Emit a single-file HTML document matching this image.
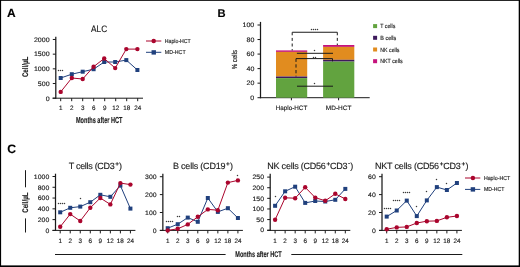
<!DOCTYPE html>
<html><head><meta charset="utf-8"><style>
html,body{margin:0;padding:0;background:#fff;width:520px;height:267px;overflow:hidden}
svg{display:block;will-change:transform}
text{font-family:"Liberation Sans", sans-serif;stroke:#1a1a1a;stroke-width:0.14;text-rendering:geometricPrecision}
</style></head><body>
<svg width="520" height="267" viewBox="0 0 520 267">
<rect width="520" height="267" fill="#fff"/>
<text x="7.0" y="17.4" font-size="12.0" text-anchor="start" font-weight="bold" fill="#000" stroke="#000" stroke-width="0.75">A</text>
<text x="99.1" y="31.6" font-size="9.3" text-anchor="middle" font-weight="normal" fill="#1a1a1a" textLength="16.1" lengthAdjust="spacingAndGlyphs" stroke-width="0.15">ALC</text>
<line x1="55.8" y1="36.7" x2="55.8" y2="98.8" stroke="#1a1a1a" stroke-width="1.25" />
<line x1="52.8" y1="98.2" x2="55.8" y2="98.2" stroke="#1a1a1a" stroke-width="1" />
<text x="49.599999999999994" y="100.504" font-size="6.4" text-anchor="end" font-weight="normal" fill="#1a1a1a" textLength="3.92" lengthAdjust="spacingAndGlyphs" >0</text>
<line x1="52.8" y1="83.52000000000001" x2="55.8" y2="83.52000000000001" stroke="#1a1a1a" stroke-width="1" />
<text x="49.599999999999994" y="85.82400000000001" font-size="6.4" text-anchor="end" font-weight="normal" fill="#1a1a1a" textLength="11.75" lengthAdjust="spacingAndGlyphs" >500</text>
<line x1="52.8" y1="68.84" x2="55.8" y2="68.84" stroke="#1a1a1a" stroke-width="1" />
<text x="49.599999999999994" y="71.144" font-size="6.4" text-anchor="end" font-weight="normal" fill="#1a1a1a" textLength="15.66" lengthAdjust="spacingAndGlyphs" >1000</text>
<line x1="52.8" y1="54.160000000000004" x2="55.8" y2="54.160000000000004" stroke="#1a1a1a" stroke-width="1" />
<text x="49.599999999999994" y="56.464000000000006" font-size="6.4" text-anchor="end" font-weight="normal" fill="#1a1a1a" textLength="15.66" lengthAdjust="spacingAndGlyphs" >1500</text>
<line x1="52.8" y1="39.480000000000004" x2="55.8" y2="39.480000000000004" stroke="#1a1a1a" stroke-width="1" />
<text x="49.599999999999994" y="41.784000000000006" font-size="6.4" text-anchor="end" font-weight="normal" fill="#1a1a1a" textLength="15.66" lengthAdjust="spacingAndGlyphs" >2000</text>
<line x1="52.5" y1="98.2" x2="143" y2="98.2" stroke="#1a1a1a" stroke-width="1" />
<line x1="60.7" y1="98.2" x2="60.7" y2="101.2" stroke="#1a1a1a" stroke-width="1" />
<text x="60.7" y="110.3" font-size="6.3" text-anchor="middle" font-weight="normal" fill="#1a1a1a" >1</text>
<line x1="71.7" y1="98.2" x2="71.7" y2="101.2" stroke="#1a1a1a" stroke-width="1" />
<text x="71.7" y="110.3" font-size="6.3" text-anchor="middle" font-weight="normal" fill="#1a1a1a" >2</text>
<line x1="82.7" y1="98.2" x2="82.7" y2="101.2" stroke="#1a1a1a" stroke-width="1" />
<text x="82.7" y="110.3" font-size="6.3" text-anchor="middle" font-weight="normal" fill="#1a1a1a" >3</text>
<line x1="93.7" y1="98.2" x2="93.7" y2="101.2" stroke="#1a1a1a" stroke-width="1" />
<text x="93.7" y="110.3" font-size="6.3" text-anchor="middle" font-weight="normal" fill="#1a1a1a" >6</text>
<line x1="104.7" y1="98.2" x2="104.7" y2="101.2" stroke="#1a1a1a" stroke-width="1" />
<text x="104.7" y="110.3" font-size="6.3" text-anchor="middle" font-weight="normal" fill="#1a1a1a" >9</text>
<line x1="115.7" y1="98.2" x2="115.7" y2="101.2" stroke="#1a1a1a" stroke-width="1" />
<text x="115.7" y="110.3" font-size="6.3" text-anchor="middle" font-weight="normal" fill="#1a1a1a" >12</text>
<line x1="126.7" y1="98.2" x2="126.7" y2="101.2" stroke="#1a1a1a" stroke-width="1" />
<text x="126.7" y="110.3" font-size="6.3" text-anchor="middle" font-weight="normal" fill="#1a1a1a" >18</text>
<line x1="137.7" y1="98.2" x2="137.7" y2="101.2" stroke="#1a1a1a" stroke-width="1" />
<text x="137.7" y="110.3" font-size="6.3" text-anchor="middle" font-weight="normal" fill="#1a1a1a" >24</text>
<text x="0" y="0" font-size="8.2" text-anchor="middle" font-weight="bold" fill="#1a1a1a" textLength="20.4" lengthAdjust="spacingAndGlyphs" stroke-width="0.02" transform="translate(28.3,66.9) rotate(-90)">Cell/µL</text>
<text x="99.2" y="122.6" font-size="8.7" text-anchor="middle" font-weight="bold" fill="#1a1a1a" textLength="46.5" lengthAdjust="spacingAndGlyphs" >Months after HCT</text>
<circle cx="58.50" cy="70.5" r="0.72" fill="#3a3a3a"/>
<circle cx="60.50" cy="70.5" r="0.72" fill="#3a3a3a"/>
<circle cx="62.50" cy="70.5" r="0.72" fill="#3a3a3a"/>
<polyline points="60.7,78 71.8,74.2 82.7,71.7 93.6,69.2 104.2,62 115.2,62 126.3,60.1 137.4,70" fill="none" stroke="#20407d" stroke-width="1"/>
<rect x="58.7" y="76" width="4" height="4" fill="#20407d"/>
<rect x="69.8" y="72.2" width="4" height="4" fill="#20407d"/>
<rect x="80.7" y="69.7" width="4" height="4" fill="#20407d"/>
<rect x="91.6" y="67.2" width="4" height="4" fill="#20407d"/>
<rect x="102.2" y="60" width="4" height="4" fill="#20407d"/>
<rect x="113.2" y="60" width="4" height="4" fill="#20407d"/>
<rect x="124.3" y="58.1" width="4" height="4" fill="#20407d"/>
<rect x="135.4" y="68" width="4" height="4" fill="#20407d"/>
<polyline points="60.7,91.9 71.8,78 82.7,79 93.6,66.7 104.2,58.5 115.2,68.1 126.3,49.1 137.4,49.1" fill="none" stroke="#aa052d" stroke-width="1"/>
<circle cx="60.7" cy="91.9" r="2.2" fill="#aa052d"/>
<circle cx="71.8" cy="78" r="2.2" fill="#aa052d"/>
<circle cx="82.7" cy="79" r="2.2" fill="#aa052d"/>
<circle cx="93.6" cy="66.7" r="2.2" fill="#aa052d"/>
<circle cx="104.2" cy="58.5" r="2.2" fill="#aa052d"/>
<circle cx="115.2" cy="68.1" r="2.2" fill="#aa052d"/>
<circle cx="126.3" cy="49.1" r="2.2" fill="#aa052d"/>
<circle cx="137.4" cy="49.1" r="2.2" fill="#aa052d"/>
<line x1="146" y1="41.0" x2="161.3" y2="41.0" stroke="#aa052d" stroke-width="1" />
<circle cx="153.7" cy="40.9" r="2.25" fill="#aa052d"/>
<text x="164.8" y="42.6" font-size="5.8" text-anchor="start" font-weight="normal" fill="#1a1a1a" textLength="26" lengthAdjust="spacingAndGlyphs" stroke-width="0.06">Haplo-HCT</text>
<line x1="146" y1="52.3" x2="161.3" y2="52.3" stroke="#20407d" stroke-width="1" />
<rect x="151.55" y="50.2" width="4.4" height="4.4" fill="#20407d"/>
<text x="164.8" y="54.2" font-size="5.8" text-anchor="start" font-weight="normal" fill="#1a1a1a" textLength="20.8" lengthAdjust="spacingAndGlyphs" stroke-width="0.06">MD-HCT</text>
<text x="217.6" y="16.6" font-size="11.2" text-anchor="start" font-weight="bold" fill="#000" stroke="#000" stroke-width="0.9">B</text>
<line x1="260.5" y1="21.9" x2="260.5" y2="98.3" stroke="#1a1a1a" stroke-width="1.25" />
<line x1="257.5" y1="97.7" x2="260.5" y2="97.7" stroke="#1a1a1a" stroke-width="1" />
<text x="254.3" y="100.004" font-size="6.4" text-anchor="end" font-weight="normal" fill="#1a1a1a" textLength="3.92" lengthAdjust="spacingAndGlyphs" >0</text>
<line x1="257.5" y1="83.16" x2="260.5" y2="83.16" stroke="#1a1a1a" stroke-width="1" />
<text x="254.3" y="85.464" font-size="6.4" text-anchor="end" font-weight="normal" fill="#1a1a1a" textLength="7.83" lengthAdjust="spacingAndGlyphs" >20</text>
<line x1="257.5" y1="68.62" x2="260.5" y2="68.62" stroke="#1a1a1a" stroke-width="1" />
<text x="254.3" y="70.924" font-size="6.4" text-anchor="end" font-weight="normal" fill="#1a1a1a" textLength="7.83" lengthAdjust="spacingAndGlyphs" >40</text>
<line x1="257.5" y1="54.080000000000005" x2="260.5" y2="54.080000000000005" stroke="#1a1a1a" stroke-width="1" />
<text x="254.3" y="56.38400000000001" font-size="6.4" text-anchor="end" font-weight="normal" fill="#1a1a1a" textLength="7.83" lengthAdjust="spacingAndGlyphs" >60</text>
<line x1="257.5" y1="39.540000000000006" x2="260.5" y2="39.540000000000006" stroke="#1a1a1a" stroke-width="1" />
<text x="254.3" y="41.84400000000001" font-size="6.4" text-anchor="end" font-weight="normal" fill="#1a1a1a" textLength="7.83" lengthAdjust="spacingAndGlyphs" >80</text>
<line x1="257.5" y1="25.0" x2="260.5" y2="25.0" stroke="#1a1a1a" stroke-width="1" />
<text x="254.3" y="27.304" font-size="6.4" text-anchor="end" font-weight="normal" fill="#1a1a1a" textLength="11.75" lengthAdjust="spacingAndGlyphs" >100</text>
<line x1="260.5" y1="97.7" x2="369.7" y2="97.7" stroke="#1a1a1a" stroke-width="1" />
<line x1="291.4" y1="97.7" x2="291.4" y2="100.3" stroke="#1a1a1a" stroke-width="1" />
<line x1="338.6" y1="97.7" x2="338.6" y2="100.3" stroke="#1a1a1a" stroke-width="1" />
<text x="291.5" y="110" font-size="6.3" text-anchor="middle" font-weight="normal" fill="#1a1a1a" textLength="31.5" lengthAdjust="spacingAndGlyphs" >Haplo-HCT</text>
<text x="338.6" y="110" font-size="6.3" text-anchor="middle" font-weight="normal" fill="#1a1a1a" textLength="25.5" lengthAdjust="spacingAndGlyphs" >MD-HCT</text>
<text x="0" y="0" font-size="7.3" text-anchor="middle" font-weight="normal" fill="#1a1a1a" textLength="19.4" lengthAdjust="spacingAndGlyphs" stroke-width="0.2" transform="translate(236.6,59.6) rotate(-90)">% cells</text>
<rect x="276" y="50.4" width="31.19999999999999" height="1.5" fill="#c5127c"/>
<rect x="276" y="51.9" width="31.19999999999999" height="24.6" fill="#e18c1f"/>
<rect x="276" y="76.5" width="31.19999999999999" height="1.5999999999999943" fill="#3e1a5c"/>
<rect x="276" y="78.1" width="31.19999999999999" height="19.60000000000001" fill="#62a33f"/>
<rect x="323.1" y="45.0" width="31.19999999999999" height="1.8999999999999986" fill="#c5127c"/>
<rect x="323.1" y="46.9" width="31.19999999999999" height="12.899999999999999" fill="#e18c1f"/>
<rect x="323.1" y="59.8" width="31.19999999999999" height="1.8000000000000043" fill="#3e1a5c"/>
<rect x="323.1" y="61.6" width="31.19999999999999" height="36.1" fill="#62a33f"/>
<line x1="292.2" y1="32.3" x2="337.3" y2="32.3" stroke="#1a1a1a" stroke-width="1.1" />
<line x1="292.2" y1="32.3" x2="292.2" y2="50.4" stroke="#1a1a1a" stroke-width="1" stroke-dasharray="3.0,2.6"/>
<line x1="337.3" y1="32.3" x2="337.3" y2="45" stroke="#1a1a1a" stroke-width="1" stroke-dasharray="3.0,2.6"/>
<circle cx="311.50" cy="29.5" r="0.72" fill="#3a3a3a"/>
<circle cx="313.50" cy="29.5" r="0.72" fill="#3a3a3a"/>
<circle cx="315.50" cy="29.5" r="0.72" fill="#3a3a3a"/>
<circle cx="317.50" cy="29.5" r="0.72" fill="#3a3a3a"/>
<line x1="296.9" y1="53.3" x2="333" y2="53.3" stroke="#1a1a1a" stroke-width="1" />
<circle cx="314.50" cy="50.5" r="0.72" fill="#3a3a3a"/>
<line x1="296" y1="58.6" x2="332.5" y2="58.6" stroke="#1a1a1a" stroke-width="1" />
<line x1="332.5" y1="58.6" x2="332.5" y2="61.4" stroke="#1a1a1a" stroke-width="1" />
<line x1="296" y1="58.6" x2="296" y2="76.5" stroke="#1a1a1a" stroke-width="1" stroke-dasharray="3.3,2.4"/>
<circle cx="313.50" cy="57.5" r="0.72" fill="#3a3a3a"/>
<circle cx="315.50" cy="57.5" r="0.72" fill="#3a3a3a"/>
<line x1="297" y1="86.2" x2="333" y2="86.2" stroke="#1a1a1a" stroke-width="1" />
<circle cx="314.50" cy="83.5" r="0.72" fill="#3a3a3a"/>
<rect x="373.1" y="24.1" width="4" height="4" fill="#62a33f"/>
<text x="380.3" y="28.200000000000003" font-size="6.0" text-anchor="start" font-weight="normal" fill="#1a1a1a" textLength="15" lengthAdjust="spacingAndGlyphs" >T cells</text>
<rect x="373.1" y="35.8" width="4" height="4" fill="#3e1a5c"/>
<text x="380.3" y="39.9" font-size="6.0" text-anchor="start" font-weight="normal" fill="#1a1a1a" textLength="16" lengthAdjust="spacingAndGlyphs" >B cells</text>
<rect x="373.1" y="47.5" width="4" height="4" fill="#e18c1f"/>
<text x="380.3" y="51.6" font-size="6.0" text-anchor="start" font-weight="normal" fill="#1a1a1a" textLength="19.2" lengthAdjust="spacingAndGlyphs" >NK cells</text>
<rect x="373.1" y="59.199999999999996" width="4" height="4" fill="#c5127c"/>
<text x="380.3" y="63.3" font-size="6.0" text-anchor="start" font-weight="normal" fill="#1a1a1a" textLength="22.3" lengthAdjust="spacingAndGlyphs" >NKT cells</text>
<text x="7.2" y="153.4" font-size="12.2" text-anchor="start" font-weight="bold" fill="#000" stroke="#000" stroke-width="0.9">C</text>
<line x1="25.5" y1="170.2" x2="25.5" y2="187.3" stroke="#1a1a1a" stroke-width="1" />
<line x1="25.5" y1="218.4" x2="25.5" y2="232.5" stroke="#1a1a1a" stroke-width="1" />
<text x="0" y="0" font-size="8.2" text-anchor="middle" font-weight="bold" fill="#1a1a1a" textLength="20.4" lengthAdjust="spacingAndGlyphs" stroke-width="0.02" transform="translate(28.3,202.6) rotate(-90)">Cell/µL</text>
<line x1="55" y1="254.5" x2="225.6" y2="254.5" stroke="#1a1a1a" stroke-width="1.1" />
<line x1="291.3" y1="254.5" x2="462.3" y2="254.5" stroke="#1a1a1a" stroke-width="1.1" />
<text x="258.5" y="257.2" font-size="8.2" text-anchor="middle" font-weight="bold" fill="#1a1a1a" textLength="46.5" lengthAdjust="spacingAndGlyphs" >Months after HCT</text>
<line x1="55.5" y1="173.7" x2="55.5" y2="231.0" stroke="#1a1a1a" stroke-width="1.25" />
<line x1="52.5" y1="230.4" x2="55.5" y2="230.4" stroke="#1a1a1a" stroke-width="1" />
<text x="49.3" y="232.668" font-size="6.3" text-anchor="end" font-weight="normal" fill="#1a1a1a" textLength="3.85" lengthAdjust="spacingAndGlyphs" >0</text>
<line x1="52.5" y1="219.62" x2="55.5" y2="219.62" stroke="#1a1a1a" stroke-width="1" />
<text x="49.3" y="221.888" font-size="6.3" text-anchor="end" font-weight="normal" fill="#1a1a1a" textLength="11.56" lengthAdjust="spacingAndGlyphs" >200</text>
<line x1="52.5" y1="208.84" x2="55.5" y2="208.84" stroke="#1a1a1a" stroke-width="1" />
<text x="49.3" y="211.108" font-size="6.3" text-anchor="end" font-weight="normal" fill="#1a1a1a" textLength="11.56" lengthAdjust="spacingAndGlyphs" >400</text>
<line x1="52.5" y1="198.06" x2="55.5" y2="198.06" stroke="#1a1a1a" stroke-width="1" />
<text x="49.3" y="200.328" font-size="6.3" text-anchor="end" font-weight="normal" fill="#1a1a1a" textLength="11.56" lengthAdjust="spacingAndGlyphs" >600</text>
<line x1="52.5" y1="187.28" x2="55.5" y2="187.28" stroke="#1a1a1a" stroke-width="1" />
<text x="49.3" y="189.548" font-size="6.3" text-anchor="end" font-weight="normal" fill="#1a1a1a" textLength="11.56" lengthAdjust="spacingAndGlyphs" >800</text>
<line x1="52.5" y1="176.5" x2="55.5" y2="176.5" stroke="#1a1a1a" stroke-width="1" />
<text x="49.3" y="178.768" font-size="6.3" text-anchor="end" font-weight="normal" fill="#1a1a1a" textLength="15.42" lengthAdjust="spacingAndGlyphs" >1000</text>
<line x1="52.5" y1="230.4" x2="135.41" y2="230.4" stroke="#1a1a1a" stroke-width="1" />
<line x1="60.2" y1="230.4" x2="60.2" y2="233.4" stroke="#1a1a1a" stroke-width="1" />
<text x="60.2" y="242.5" font-size="6.3" text-anchor="middle" font-weight="normal" fill="#1a1a1a" >1</text>
<line x1="70.23" y1="230.4" x2="70.23" y2="233.4" stroke="#1a1a1a" stroke-width="1" />
<text x="70.23" y="242.5" font-size="6.3" text-anchor="middle" font-weight="normal" fill="#1a1a1a" >2</text>
<line x1="80.26" y1="230.4" x2="80.26" y2="233.4" stroke="#1a1a1a" stroke-width="1" />
<text x="80.26" y="242.5" font-size="6.3" text-anchor="middle" font-weight="normal" fill="#1a1a1a" >3</text>
<line x1="90.28999999999999" y1="230.4" x2="90.28999999999999" y2="233.4" stroke="#1a1a1a" stroke-width="1" />
<text x="90.28999999999999" y="242.5" font-size="6.3" text-anchor="middle" font-weight="normal" fill="#1a1a1a" >6</text>
<line x1="100.32" y1="230.4" x2="100.32" y2="233.4" stroke="#1a1a1a" stroke-width="1" />
<text x="100.32" y="242.5" font-size="6.3" text-anchor="middle" font-weight="normal" fill="#1a1a1a" >9</text>
<line x1="110.35" y1="230.4" x2="110.35" y2="233.4" stroke="#1a1a1a" stroke-width="1" />
<text x="110.35" y="242.5" font-size="6.3" text-anchor="middle" font-weight="normal" fill="#1a1a1a" >12</text>
<line x1="120.38" y1="230.4" x2="120.38" y2="233.4" stroke="#1a1a1a" stroke-width="1" />
<text x="120.38" y="242.5" font-size="6.3" text-anchor="middle" font-weight="normal" fill="#1a1a1a" >18</text>
<line x1="130.41" y1="230.4" x2="130.41" y2="233.4" stroke="#1a1a1a" stroke-width="1" />
<text x="130.41" y="242.5" font-size="6.3" text-anchor="middle" font-weight="normal" fill="#1a1a1a" >24</text>
<text x="68.7" y="168.6" font-size="9.0" fill="#1a1a1a" stroke-width="0.18" letter-spacing="-0.298">T cells (CD3<tspan font-size="6.4" font-weight="bold" dx="0.8" dy="-2.9">+</tspan><tspan dx="0.4" dy="2.9">)</tspan></text>
<polyline points="60.2,212.3 70.23,207.8 80.26,206.6 90.28999999999999,202.2 100.32,194.8 110.35,196.8 120.38,185.6 130.41,208.6" fill="none" stroke="#20407d" stroke-width="1"/>
<rect x="58.2" y="210.3" width="4" height="4" fill="#20407d"/>
<rect x="68.23" y="205.8" width="4" height="4" fill="#20407d"/>
<rect x="78.26" y="204.6" width="4" height="4" fill="#20407d"/>
<rect x="88.28999999999999" y="200.2" width="4" height="4" fill="#20407d"/>
<rect x="98.32" y="192.8" width="4" height="4" fill="#20407d"/>
<rect x="108.35" y="194.8" width="4" height="4" fill="#20407d"/>
<rect x="118.38" y="183.6" width="4" height="4" fill="#20407d"/>
<rect x="128.41" y="206.6" width="4" height="4" fill="#20407d"/>
<polyline points="60.2,226.8 70.23,214.1 80.26,221.0 90.28999999999999,207.8 100.32,198.0 110.35,204.4 120.38,183.1 130.41,184.6" fill="none" stroke="#aa052d" stroke-width="1"/>
<circle cx="60.2" cy="226.8" r="2.2" fill="#aa052d"/>
<circle cx="70.23" cy="214.1" r="2.2" fill="#aa052d"/>
<circle cx="80.26" cy="221.0" r="2.2" fill="#aa052d"/>
<circle cx="90.28999999999999" cy="207.8" r="2.2" fill="#aa052d"/>
<circle cx="100.32" cy="198.0" r="2.2" fill="#aa052d"/>
<circle cx="110.35" cy="204.4" r="2.2" fill="#aa052d"/>
<circle cx="120.38" cy="183.1" r="2.2" fill="#aa052d"/>
<circle cx="130.41" cy="184.6" r="2.2" fill="#aa052d"/>
<circle cx="58.50" cy="203.5" r="0.72" fill="#3a3a3a"/>
<circle cx="60.50" cy="203.5" r="0.72" fill="#3a3a3a"/>
<circle cx="62.50" cy="203.5" r="0.72" fill="#3a3a3a"/>
<circle cx="64.50" cy="203.5" r="0.72" fill="#3a3a3a"/>
<circle cx="80.50" cy="198.5" r="0.72" fill="#3a3a3a"/>
<line x1="162.85" y1="173.7" x2="162.85" y2="231.0" stroke="#1a1a1a" stroke-width="1.25" />
<line x1="159.85" y1="230.4" x2="162.85" y2="230.4" stroke="#1a1a1a" stroke-width="1" />
<text x="156.65" y="232.668" font-size="6.3" text-anchor="end" font-weight="normal" fill="#1a1a1a" textLength="3.85" lengthAdjust="spacingAndGlyphs" >0</text>
<line x1="159.85" y1="212.5" x2="162.85" y2="212.5" stroke="#1a1a1a" stroke-width="1" />
<text x="156.65" y="214.768" font-size="6.3" text-anchor="end" font-weight="normal" fill="#1a1a1a" textLength="11.56" lengthAdjust="spacingAndGlyphs" >100</text>
<line x1="159.85" y1="194.60000000000002" x2="162.85" y2="194.60000000000002" stroke="#1a1a1a" stroke-width="1" />
<text x="156.65" y="196.86800000000002" font-size="6.3" text-anchor="end" font-weight="normal" fill="#1a1a1a" textLength="11.56" lengthAdjust="spacingAndGlyphs" >200</text>
<line x1="159.85" y1="176.70000000000002" x2="162.85" y2="176.70000000000002" stroke="#1a1a1a" stroke-width="1" />
<text x="156.65" y="178.96800000000002" font-size="6.3" text-anchor="end" font-weight="normal" fill="#1a1a1a" textLength="11.56" lengthAdjust="spacingAndGlyphs" >300</text>
<line x1="159.85" y1="230.4" x2="242.90999999999997" y2="230.4" stroke="#1a1a1a" stroke-width="1" />
<line x1="167.7" y1="230.4" x2="167.7" y2="233.4" stroke="#1a1a1a" stroke-width="1" />
<text x="167.7" y="242.5" font-size="6.3" text-anchor="middle" font-weight="normal" fill="#1a1a1a" >1</text>
<line x1="177.73" y1="230.4" x2="177.73" y2="233.4" stroke="#1a1a1a" stroke-width="1" />
<text x="177.73" y="242.5" font-size="6.3" text-anchor="middle" font-weight="normal" fill="#1a1a1a" >2</text>
<line x1="187.76" y1="230.4" x2="187.76" y2="233.4" stroke="#1a1a1a" stroke-width="1" />
<text x="187.76" y="242.5" font-size="6.3" text-anchor="middle" font-weight="normal" fill="#1a1a1a" >3</text>
<line x1="197.79" y1="230.4" x2="197.79" y2="233.4" stroke="#1a1a1a" stroke-width="1" />
<text x="197.79" y="242.5" font-size="6.3" text-anchor="middle" font-weight="normal" fill="#1a1a1a" >6</text>
<line x1="207.82" y1="230.4" x2="207.82" y2="233.4" stroke="#1a1a1a" stroke-width="1" />
<text x="207.82" y="242.5" font-size="6.3" text-anchor="middle" font-weight="normal" fill="#1a1a1a" >9</text>
<line x1="217.85" y1="230.4" x2="217.85" y2="233.4" stroke="#1a1a1a" stroke-width="1" />
<text x="217.85" y="242.5" font-size="6.3" text-anchor="middle" font-weight="normal" fill="#1a1a1a" >12</text>
<line x1="227.88" y1="230.4" x2="227.88" y2="233.4" stroke="#1a1a1a" stroke-width="1" />
<text x="227.88" y="242.5" font-size="6.3" text-anchor="middle" font-weight="normal" fill="#1a1a1a" >18</text>
<line x1="237.90999999999997" y1="230.4" x2="237.90999999999997" y2="233.4" stroke="#1a1a1a" stroke-width="1" />
<text x="237.90999999999997" y="242.5" font-size="6.3" text-anchor="middle" font-weight="normal" fill="#1a1a1a" >24</text>
<text x="173" y="168.6" font-size="9.0" fill="#1a1a1a" stroke-width="0.18" letter-spacing="-0.211">B cells (CD19<tspan font-size="6.4" font-weight="bold" dx="0.8" dy="-2.9">+</tspan><tspan dx="0.4" dy="2.9">)</tspan></text>
<polyline points="167.7,228.2 177.73,224.2 187.76,217.6 197.79,221.8 207.82,198.0 217.85,211.9 227.88,208.2 237.90999999999997,218.0" fill="none" stroke="#20407d" stroke-width="1"/>
<rect x="165.7" y="226.2" width="4" height="4" fill="#20407d"/>
<rect x="175.73" y="222.2" width="4" height="4" fill="#20407d"/>
<rect x="185.76" y="215.6" width="4" height="4" fill="#20407d"/>
<rect x="195.79" y="219.8" width="4" height="4" fill="#20407d"/>
<rect x="205.82" y="196.0" width="4" height="4" fill="#20407d"/>
<rect x="215.85" y="209.9" width="4" height="4" fill="#20407d"/>
<rect x="225.88" y="206.2" width="4" height="4" fill="#20407d"/>
<rect x="235.90999999999997" y="216.0" width="4" height="4" fill="#20407d"/>
<polyline points="167.7,230.4 177.73,228.8 187.76,224.4 197.79,216.8 207.82,209.4 217.85,210.2 227.88,182.6 237.90999999999997,180.4" fill="none" stroke="#aa052d" stroke-width="1"/>
<circle cx="167.7" cy="230.4" r="2.2" fill="#aa052d"/>
<circle cx="177.73" cy="228.8" r="2.2" fill="#aa052d"/>
<circle cx="187.76" cy="224.4" r="2.2" fill="#aa052d"/>
<circle cx="197.79" cy="216.8" r="2.2" fill="#aa052d"/>
<circle cx="207.82" cy="209.4" r="2.2" fill="#aa052d"/>
<circle cx="217.85" cy="210.2" r="2.2" fill="#aa052d"/>
<circle cx="227.88" cy="182.6" r="2.2" fill="#aa052d"/>
<circle cx="237.90999999999997" cy="180.4" r="2.2" fill="#aa052d"/>
<circle cx="166.50" cy="221.5" r="0.72" fill="#3a3a3a"/>
<circle cx="168.50" cy="221.5" r="0.72" fill="#3a3a3a"/>
<circle cx="170.50" cy="221.5" r="0.72" fill="#3a3a3a"/>
<circle cx="172.50" cy="221.5" r="0.72" fill="#3a3a3a"/>
<circle cx="177.50" cy="216.5" r="0.72" fill="#3a3a3a"/>
<circle cx="179.50" cy="216.5" r="0.72" fill="#3a3a3a"/>
<circle cx="237.50" cy="175.5" r="0.72" fill="#3a3a3a"/>
<line x1="270.2" y1="173.7" x2="270.2" y2="231.0" stroke="#1a1a1a" stroke-width="1.25" />
<line x1="267.2" y1="230.2" x2="270.2" y2="230.2" stroke="#1a1a1a" stroke-width="1" />
<text x="264.0" y="232.468" font-size="6.3" text-anchor="end" font-weight="normal" fill="#1a1a1a" textLength="3.85" lengthAdjust="spacingAndGlyphs" >0</text>
<line x1="267.2" y1="219.57999999999998" x2="270.2" y2="219.57999999999998" stroke="#1a1a1a" stroke-width="1" />
<text x="264.0" y="221.84799999999998" font-size="6.3" text-anchor="end" font-weight="normal" fill="#1a1a1a" textLength="7.71" lengthAdjust="spacingAndGlyphs" >50</text>
<line x1="267.2" y1="208.95999999999998" x2="270.2" y2="208.95999999999998" stroke="#1a1a1a" stroke-width="1" />
<text x="264.0" y="211.22799999999998" font-size="6.3" text-anchor="end" font-weight="normal" fill="#1a1a1a" textLength="11.56" lengthAdjust="spacingAndGlyphs" >100</text>
<line x1="267.2" y1="198.33999999999997" x2="270.2" y2="198.33999999999997" stroke="#1a1a1a" stroke-width="1" />
<text x="264.0" y="200.60799999999998" font-size="6.3" text-anchor="end" font-weight="normal" fill="#1a1a1a" textLength="11.56" lengthAdjust="spacingAndGlyphs" >150</text>
<line x1="267.2" y1="187.72" x2="270.2" y2="187.72" stroke="#1a1a1a" stroke-width="1" />
<text x="264.0" y="189.988" font-size="6.3" text-anchor="end" font-weight="normal" fill="#1a1a1a" textLength="11.56" lengthAdjust="spacingAndGlyphs" >200</text>
<line x1="267.2" y1="177.1" x2="270.2" y2="177.1" stroke="#1a1a1a" stroke-width="1" />
<text x="264.0" y="179.368" font-size="6.3" text-anchor="end" font-weight="normal" fill="#1a1a1a" textLength="11.56" lengthAdjust="spacingAndGlyphs" >250</text>
<line x1="267.2" y1="230.4" x2="350.31" y2="230.4" stroke="#1a1a1a" stroke-width="1" />
<line x1="275.1" y1="230.4" x2="275.1" y2="233.4" stroke="#1a1a1a" stroke-width="1" />
<text x="275.1" y="242.5" font-size="6.3" text-anchor="middle" font-weight="normal" fill="#1a1a1a" >1</text>
<line x1="285.13" y1="230.4" x2="285.13" y2="233.4" stroke="#1a1a1a" stroke-width="1" />
<text x="285.13" y="242.5" font-size="6.3" text-anchor="middle" font-weight="normal" fill="#1a1a1a" >2</text>
<line x1="295.16" y1="230.4" x2="295.16" y2="233.4" stroke="#1a1a1a" stroke-width="1" />
<text x="295.16" y="242.5" font-size="6.3" text-anchor="middle" font-weight="normal" fill="#1a1a1a" >3</text>
<line x1="305.19" y1="230.4" x2="305.19" y2="233.4" stroke="#1a1a1a" stroke-width="1" />
<text x="305.19" y="242.5" font-size="6.3" text-anchor="middle" font-weight="normal" fill="#1a1a1a" >6</text>
<line x1="315.22" y1="230.4" x2="315.22" y2="233.4" stroke="#1a1a1a" stroke-width="1" />
<text x="315.22" y="242.5" font-size="6.3" text-anchor="middle" font-weight="normal" fill="#1a1a1a" >9</text>
<line x1="325.25" y1="230.4" x2="325.25" y2="233.4" stroke="#1a1a1a" stroke-width="1" />
<text x="325.25" y="242.5" font-size="6.3" text-anchor="middle" font-weight="normal" fill="#1a1a1a" >12</text>
<line x1="335.28000000000003" y1="230.4" x2="335.28000000000003" y2="233.4" stroke="#1a1a1a" stroke-width="1" />
<text x="335.28000000000003" y="242.5" font-size="6.3" text-anchor="middle" font-weight="normal" fill="#1a1a1a" >18</text>
<line x1="345.31" y1="230.4" x2="345.31" y2="233.4" stroke="#1a1a1a" stroke-width="1" />
<text x="345.31" y="242.5" font-size="6.3" text-anchor="middle" font-weight="normal" fill="#1a1a1a" >24</text>
<text x="267.3" y="168.6" font-size="9.0" fill="#1a1a1a" stroke-width="0.18" letter-spacing="-0.231">NK cells (CD56<tspan font-size="6.4" font-weight="bold" dx="0.8" dy="-2.9">+</tspan><tspan dy="2.9">CD3</tspan><tspan font-size="6.4" font-weight="bold" dx="0.8" dy="-4.1">-</tspan><tspan dx="0.4" dy="4.1">)</tspan></text>
<polyline points="275.1,205.8 285.13,191.3 295.16,186.7 305.19,202.9 315.22,201.0 325.25,201.5 335.28000000000003,199.8 345.31,188.9" fill="none" stroke="#20407d" stroke-width="1"/>
<rect x="273.1" y="203.8" width="4" height="4" fill="#20407d"/>
<rect x="283.13" y="189.3" width="4" height="4" fill="#20407d"/>
<rect x="293.16" y="184.7" width="4" height="4" fill="#20407d"/>
<rect x="303.19" y="200.9" width="4" height="4" fill="#20407d"/>
<rect x="313.22" y="199.0" width="4" height="4" fill="#20407d"/>
<rect x="323.25" y="199.5" width="4" height="4" fill="#20407d"/>
<rect x="333.28000000000003" y="197.8" width="4" height="4" fill="#20407d"/>
<rect x="343.31" y="186.9" width="4" height="4" fill="#20407d"/>
<polyline points="275.1,219.8 285.13,197.8 295.16,198.2 305.19,187.3 315.22,197.6 325.25,200.8 335.28000000000003,193.8 345.31,199.0" fill="none" stroke="#aa052d" stroke-width="1"/>
<circle cx="275.1" cy="219.8" r="2.2" fill="#aa052d"/>
<circle cx="285.13" cy="197.8" r="2.2" fill="#aa052d"/>
<circle cx="295.16" cy="198.2" r="2.2" fill="#aa052d"/>
<circle cx="305.19" cy="187.3" r="2.2" fill="#aa052d"/>
<circle cx="315.22" cy="197.6" r="2.2" fill="#aa052d"/>
<circle cx="325.25" cy="200.8" r="2.2" fill="#aa052d"/>
<circle cx="335.28000000000003" cy="193.8" r="2.2" fill="#aa052d"/>
<circle cx="345.31" cy="199.0" r="2.2" fill="#aa052d"/>
<circle cx="275.50" cy="196.5" r="0.72" fill="#3a3a3a"/>
<line x1="382" y1="173.7" x2="382" y2="231.0" stroke="#1a1a1a" stroke-width="1.25" />
<line x1="379" y1="230.4" x2="382" y2="230.4" stroke="#1a1a1a" stroke-width="1" />
<text x="375.8" y="232.668" font-size="6.3" text-anchor="end" font-weight="normal" fill="#1a1a1a" textLength="3.85" lengthAdjust="spacingAndGlyphs" >0</text>
<line x1="379" y1="212.5" x2="382" y2="212.5" stroke="#1a1a1a" stroke-width="1" />
<text x="375.8" y="214.768" font-size="6.3" text-anchor="end" font-weight="normal" fill="#1a1a1a" textLength="7.71" lengthAdjust="spacingAndGlyphs" >20</text>
<line x1="379" y1="194.60000000000002" x2="382" y2="194.60000000000002" stroke="#1a1a1a" stroke-width="1" />
<text x="375.8" y="196.86800000000002" font-size="6.3" text-anchor="end" font-weight="normal" fill="#1a1a1a" textLength="7.71" lengthAdjust="spacingAndGlyphs" >40</text>
<line x1="379" y1="176.70000000000002" x2="382" y2="176.70000000000002" stroke="#1a1a1a" stroke-width="1" />
<text x="375.8" y="178.96800000000002" font-size="6.3" text-anchor="end" font-weight="normal" fill="#1a1a1a" textLength="7.71" lengthAdjust="spacingAndGlyphs" >60</text>
<line x1="379" y1="230.4" x2="461.90999999999997" y2="230.4" stroke="#1a1a1a" stroke-width="1" />
<line x1="386.7" y1="230.4" x2="386.7" y2="233.4" stroke="#1a1a1a" stroke-width="1" />
<text x="386.7" y="242.5" font-size="6.3" text-anchor="middle" font-weight="normal" fill="#1a1a1a" >1</text>
<line x1="396.72999999999996" y1="230.4" x2="396.72999999999996" y2="233.4" stroke="#1a1a1a" stroke-width="1" />
<text x="396.72999999999996" y="242.5" font-size="6.3" text-anchor="middle" font-weight="normal" fill="#1a1a1a" >2</text>
<line x1="406.76" y1="230.4" x2="406.76" y2="233.4" stroke="#1a1a1a" stroke-width="1" />
<text x="406.76" y="242.5" font-size="6.3" text-anchor="middle" font-weight="normal" fill="#1a1a1a" >3</text>
<line x1="416.78999999999996" y1="230.4" x2="416.78999999999996" y2="233.4" stroke="#1a1a1a" stroke-width="1" />
<text x="416.78999999999996" y="242.5" font-size="6.3" text-anchor="middle" font-weight="normal" fill="#1a1a1a" >6</text>
<line x1="426.82" y1="230.4" x2="426.82" y2="233.4" stroke="#1a1a1a" stroke-width="1" />
<text x="426.82" y="242.5" font-size="6.3" text-anchor="middle" font-weight="normal" fill="#1a1a1a" >9</text>
<line x1="436.84999999999997" y1="230.4" x2="436.84999999999997" y2="233.4" stroke="#1a1a1a" stroke-width="1" />
<text x="436.84999999999997" y="242.5" font-size="6.3" text-anchor="middle" font-weight="normal" fill="#1a1a1a" >12</text>
<line x1="446.88" y1="230.4" x2="446.88" y2="233.4" stroke="#1a1a1a" stroke-width="1" />
<text x="446.88" y="242.5" font-size="6.3" text-anchor="middle" font-weight="normal" fill="#1a1a1a" >18</text>
<line x1="456.90999999999997" y1="230.4" x2="456.90999999999997" y2="233.4" stroke="#1a1a1a" stroke-width="1" />
<text x="456.90999999999997" y="242.5" font-size="6.3" text-anchor="middle" font-weight="normal" fill="#1a1a1a" >24</text>
<text x="375" y="168.6" font-size="9.0" fill="#1a1a1a" stroke-width="0.18" letter-spacing="-0.196">NKT cells (CD56<tspan font-size="6.4" font-weight="bold" dx="0.8" dy="-2.9">+</tspan><tspan dy="2.9">CD3</tspan><tspan font-size="6.4" font-weight="bold" dx="0.8" dy="-2.9">+</tspan><tspan dx="0.4" dy="2.9">)</tspan></text>
<polyline points="386.7,216.6 396.72999999999996,210.5 406.76,200.6 416.78999999999996,216.1 426.82,200.4 436.84999999999997,187.1 446.88,190.0 456.90999999999997,183.0" fill="none" stroke="#20407d" stroke-width="1"/>
<rect x="384.7" y="214.6" width="4" height="4" fill="#20407d"/>
<rect x="394.72999999999996" y="208.5" width="4" height="4" fill="#20407d"/>
<rect x="404.76" y="198.6" width="4" height="4" fill="#20407d"/>
<rect x="414.78999999999996" y="214.1" width="4" height="4" fill="#20407d"/>
<rect x="424.82" y="198.4" width="4" height="4" fill="#20407d"/>
<rect x="434.84999999999997" y="185.1" width="4" height="4" fill="#20407d"/>
<rect x="444.88" y="188.0" width="4" height="4" fill="#20407d"/>
<rect x="454.90999999999997" y="181.0" width="4" height="4" fill="#20407d"/>
<polyline points="386.7,229.2 396.72999999999996,227.4 406.76,226.9 416.78999999999996,223.0 426.82,221.2 436.84999999999997,220.9 446.88,217.3 456.90999999999997,216.0" fill="none" stroke="#aa052d" stroke-width="1"/>
<circle cx="386.7" cy="229.2" r="2.2" fill="#aa052d"/>
<circle cx="396.72999999999996" cy="227.4" r="2.2" fill="#aa052d"/>
<circle cx="406.76" cy="226.9" r="2.2" fill="#aa052d"/>
<circle cx="416.78999999999996" cy="223.0" r="2.2" fill="#aa052d"/>
<circle cx="426.82" cy="221.2" r="2.2" fill="#aa052d"/>
<circle cx="436.84999999999997" cy="220.9" r="2.2" fill="#aa052d"/>
<circle cx="446.88" cy="217.3" r="2.2" fill="#aa052d"/>
<circle cx="456.90999999999997" cy="216.0" r="2.2" fill="#aa052d"/>
<circle cx="384.50" cy="208.5" r="0.72" fill="#3a3a3a"/>
<circle cx="386.50" cy="208.5" r="0.72" fill="#3a3a3a"/>
<circle cx="388.50" cy="208.5" r="0.72" fill="#3a3a3a"/>
<circle cx="390.50" cy="208.5" r="0.72" fill="#3a3a3a"/>
<circle cx="393.50" cy="200.5" r="0.72" fill="#3a3a3a"/>
<circle cx="395.50" cy="200.5" r="0.72" fill="#3a3a3a"/>
<circle cx="397.50" cy="200.5" r="0.72" fill="#3a3a3a"/>
<circle cx="399.50" cy="200.5" r="0.72" fill="#3a3a3a"/>
<circle cx="403.50" cy="192.5" r="0.72" fill="#3a3a3a"/>
<circle cx="405.50" cy="192.5" r="0.72" fill="#3a3a3a"/>
<circle cx="407.50" cy="192.5" r="0.72" fill="#3a3a3a"/>
<circle cx="409.50" cy="192.5" r="0.72" fill="#3a3a3a"/>
<circle cx="416.50" cy="206.5" r="0.72" fill="#3a3a3a"/>
<circle cx="426.50" cy="191.5" r="0.72" fill="#3a3a3a"/>
<circle cx="436.50" cy="179.5" r="0.72" fill="#3a3a3a"/>
<circle cx="446.50" cy="183.5" r="0.72" fill="#3a3a3a"/>
<line x1="465" y1="178.0" x2="480.3" y2="178.0" stroke="#aa052d" stroke-width="1" />
<circle cx="472.9" cy="178" r="2.25" fill="#aa052d"/>
<text x="483.9" y="179.7" font-size="5.8" text-anchor="start" font-weight="normal" fill="#1a1a1a" textLength="26.3" lengthAdjust="spacingAndGlyphs" stroke-width="0.06">Haplo-HCT</text>
<line x1="465" y1="189.4" x2="480.3" y2="189.4" stroke="#20407d" stroke-width="1" />
<rect x="470.7" y="187.2" width="4.4" height="4.4" fill="#20407d"/>
<text x="483.9" y="191.3" font-size="5.8" text-anchor="start" font-weight="normal" fill="#1a1a1a" textLength="20.5" lengthAdjust="spacingAndGlyphs" stroke-width="0.06">MD-HCT</text>
<rect x="0" y="0" width="520" height="0.85" fill="#000"/>
<rect x="0" y="0" width="1.1" height="267" fill="#000"/>
<rect x="518.7" y="0" width="1.3" height="267" fill="#000"/>
<rect x="0" y="265.4" width="520" height="1.6" fill="#000"/>
</svg>
</body></html>
